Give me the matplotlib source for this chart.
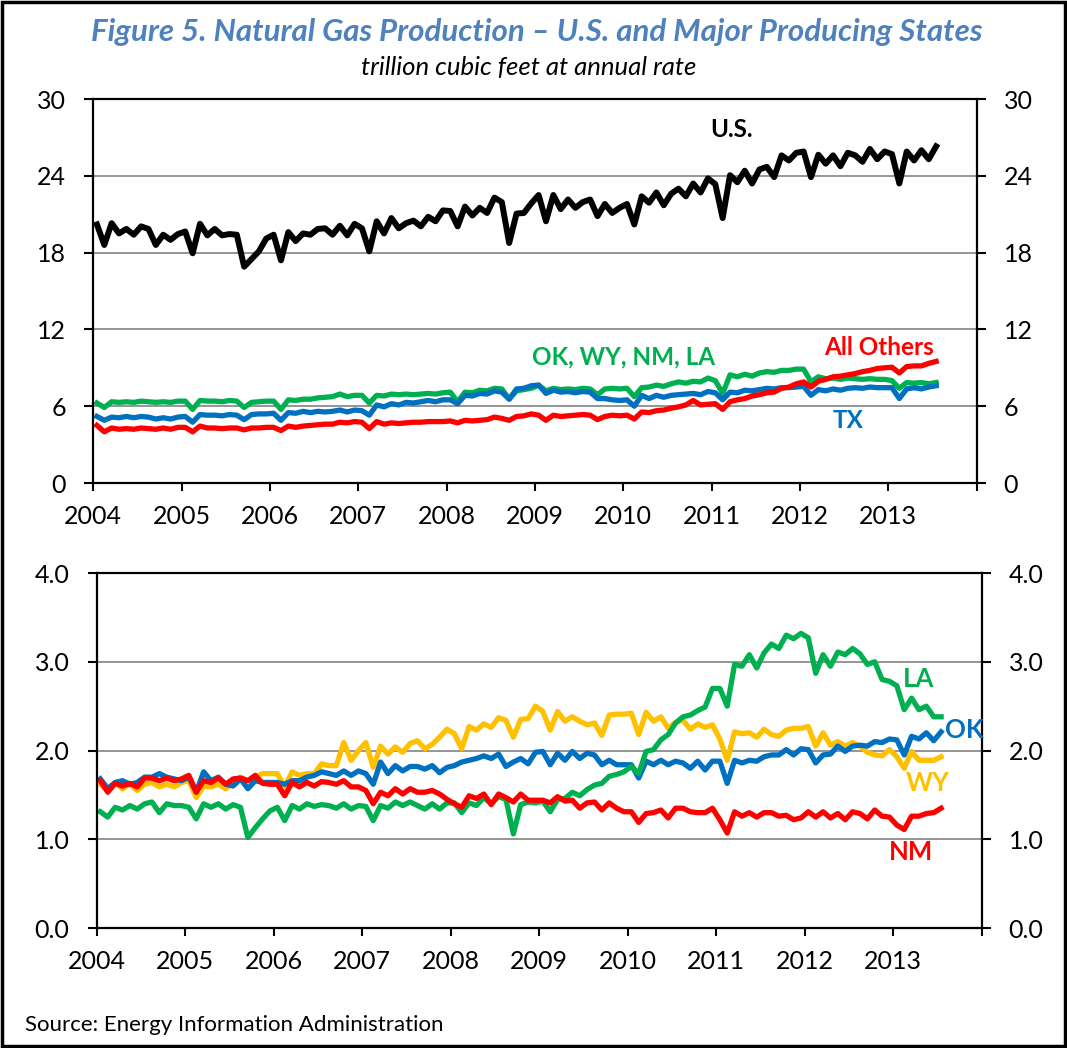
import numpy as np
import matplotlib
matplotlib.use("Agg")
import matplotlib.pyplot as plt
from matplotlib.patches import Rectangle

# ---------------- data (trillion cubic feet, annual rate), monthly Jan-2004 .. Jul-2013
us = [20.2, 18.6, 20.3, 19.5, 19.85, 19.4, 20.05, 19.85, 18.6, 19.4, 19.0, 19.45,
      19.65, 17.95, 20.25, 19.35, 19.85, 19.35, 19.45, 19.4, 16.9, 17.5, 18.1, 19.1,
      19.4, 17.4, 19.6, 18.9, 19.5, 19.4, 19.85, 19.9, 19.4, 20.1, 19.35, 20.25,
      19.9, 18.1, 20.45, 19.5, 20.7, 19.9, 20.3, 20.5, 20.05, 20.8, 20.45, 21.3,
      21.25, 20.05, 21.6, 20.9, 21.5, 21.1, 22.3, 21.95, 18.75, 21.05, 21.1, 21.85,
      22.5, 20.45, 22.5, 21.4, 22.15, 21.5, 21.95, 22.15, 20.85, 21.8, 21.1, 21.5,
      21.8, 20.2, 22.4, 21.9, 22.7, 21.7, 22.6, 23.0, 22.4, 23.4, 22.7, 23.8,
      23.35, 20.7, 24.05, 23.5, 24.4, 23.4, 24.5, 24.7, 23.9, 25.6, 25.2, 25.8,
      25.9, 23.9, 25.65, 24.95, 25.6, 24.75, 25.8, 25.6, 25.1, 26.1, 25.3, 25.9,
      25.7, 23.4, 25.9, 25.2, 26.0, 25.3, 26.3]

tx = [5.2, 4.9, 5.15, 5.1, 5.2, 5.1, 5.2, 5.15, 5.0, 5.1, 5.0, 5.15,
      5.2, 4.75, 5.35, 5.3, 5.3, 5.25, 5.35, 5.3, 4.95, 5.35, 5.4, 5.4,
      5.45, 4.9, 5.5, 5.45, 5.6, 5.5, 5.6, 5.55, 5.6, 5.7, 5.55, 5.7,
      5.65, 5.3, 6.1, 5.95, 6.2, 6.1, 6.3, 6.25, 6.35, 6.45, 6.35, 6.5,
      6.5, 6.2, 6.85, 6.8, 7.0, 6.95, 7.2, 7.1, 6.55, 7.35, 7.4, 7.6,
      7.65, 7.0, 7.25, 7.1, 7.15, 7.05, 7.15, 7.1, 6.6, 6.6, 6.5, 6.45,
      6.5, 6.0, 6.85, 6.6, 6.85, 6.7, 6.85, 6.9, 6.95, 7.0, 6.9, 7.15,
      7.05, 6.5, 7.1, 7.05, 7.25, 7.2, 7.3, 7.4, 7.35, 7.45, 7.45, 7.5,
      7.55, 6.85, 7.3, 7.2, 7.35, 7.25, 7.4, 7.45, 7.4, 7.5, 7.45, 7.45,
      7.45, 6.6, 7.35, 7.45, 7.35, 7.5, 7.6]

ok_wy_nm_la = [6.25, 5.9, 6.35, 6.3, 6.35, 6.3, 6.4, 6.35, 6.3, 6.35, 6.3, 6.4,
               6.4, 5.75, 6.45, 6.4, 6.4, 6.35, 6.45, 6.4, 5.9, 6.3, 6.35, 6.4,
               6.4, 5.75, 6.5, 6.45, 6.55, 6.55, 6.65, 6.7, 6.75, 6.95, 6.75, 6.85,
               6.85, 6.25, 6.85, 6.8, 6.95, 6.9, 6.95, 6.9, 6.95, 7.0, 6.95, 7.05,
               7.1, 6.35, 7.1, 7.05, 7.25, 7.2, 7.4, 7.35, 6.55, 7.2, 7.3, 7.4,
               7.65, 7.2, 7.4, 7.3, 7.35, 7.3, 7.4, 7.35, 6.9, 7.35, 7.4, 7.35,
               7.4, 6.75, 7.45, 7.5, 7.65, 7.55, 7.75, 7.9, 7.8, 7.95, 7.9, 8.2,
               8.0, 7.0, 8.45, 8.3, 8.5, 8.35, 8.6, 8.7, 8.65, 8.8, 8.8, 8.9,
               8.9, 7.9, 8.3, 8.15, 8.2, 8.1, 8.2, 8.15, 8.1, 8.15, 8.1, 8.1,
               8.0, 7.4, 7.85, 7.8, 7.85, 7.75, 7.85]

all_others = [4.5, 4.0, 4.3, 4.2, 4.25, 4.2, 4.3, 4.25, 4.2, 4.3, 4.2, 4.35,
              4.35, 4.0, 4.45, 4.3, 4.3, 4.25, 4.3, 4.3, 4.15, 4.3, 4.3, 4.35,
              4.35, 4.1, 4.45, 4.35, 4.45, 4.5, 4.55, 4.6, 4.6, 4.75, 4.7, 4.8,
              4.75, 4.25, 4.8, 4.6, 4.7, 4.65, 4.7, 4.75, 4.75, 4.8, 4.8, 4.8,
              4.85, 4.7, 4.9, 4.85, 4.9, 4.95, 5.15, 5.05, 4.9, 5.2, 5.25, 5.4,
              5.3, 4.9, 5.3, 5.2, 5.25, 5.3, 5.35, 5.3, 4.95, 5.2, 5.3, 5.25,
              5.3, 5.0, 5.55, 5.5, 5.65, 5.7, 5.85, 5.95, 6.1, 6.45, 6.1, 6.15,
              6.2, 5.75, 6.35, 6.5, 6.6, 6.8, 6.9, 7.05, 7.1, 7.4, 7.5, 7.75,
              7.9, 7.5, 7.95, 8.1, 8.3, 8.35, 8.45, 8.55, 8.7, 8.8, 8.95, 9.0,
              9.05, 8.6, 9.1, 9.15, 9.15, 9.35, 9.5]

la = [1.31, 1.25, 1.36, 1.33, 1.38, 1.34, 1.40, 1.42, 1.30, 1.40, 1.38, 1.38,
      1.36, 1.23, 1.40, 1.36, 1.40, 1.34, 1.39, 1.36, 1.02, 1.13, 1.23, 1.32,
      1.36, 1.21, 1.38, 1.34, 1.40, 1.37, 1.39, 1.38, 1.35, 1.40, 1.34, 1.38,
      1.37, 1.21, 1.38, 1.35, 1.42, 1.38, 1.42, 1.38, 1.34, 1.40, 1.34, 1.41,
      1.41, 1.30, 1.41, 1.38, 1.47, 1.40, 1.48, 1.45, 1.06, 1.39, 1.42, 1.41,
      1.43, 1.31, 1.45, 1.46, 1.53, 1.49, 1.56, 1.61, 1.63, 1.71, 1.73, 1.76,
      1.82, 1.74, 1.99, 2.01, 2.12, 2.18, 2.31, 2.38, 2.40, 2.45, 2.49, 2.70,
      2.70, 2.50, 2.97, 2.95, 3.08, 2.93, 3.10, 3.20, 3.15, 3.30, 3.26, 3.32,
      3.27, 2.87, 3.08, 2.95, 3.11, 3.08, 3.15, 3.09, 2.97, 3.00, 2.80, 2.78,
      2.73, 2.46, 2.59, 2.46, 2.50, 2.38, 2.38]

ok = [1.68, 1.57, 1.64, 1.66, 1.62, 1.64, 1.70, 1.70, 1.74, 1.70, 1.68, 1.66,
      1.70, 1.53, 1.76, 1.66, 1.70, 1.62, 1.60, 1.68, 1.57, 1.66, 1.64, 1.64,
      1.64, 1.62, 1.66, 1.66, 1.70, 1.72, 1.76, 1.74, 1.72, 1.77, 1.72, 1.77,
      1.74, 1.62, 1.87, 1.74, 1.83, 1.77, 1.82, 1.82, 1.79, 1.83, 1.75, 1.81,
      1.83, 1.87, 1.89, 1.91, 1.94, 1.91, 1.96, 1.82, 1.87, 1.91, 1.85, 1.98,
      1.99, 1.84, 1.97, 1.89, 1.99, 1.91, 1.97, 1.95, 1.84, 1.89, 1.84, 1.84,
      1.84, 1.69, 1.88, 1.84, 1.89, 1.84, 1.88, 1.86, 1.80, 1.88, 1.78, 1.88,
      1.88, 1.63, 1.89, 1.86, 1.89, 1.88, 1.93, 1.95, 1.95, 2.01, 1.95, 2.02,
      2.01, 1.86, 1.95, 1.96, 2.05, 1.99, 2.05, 2.06, 2.05, 2.10, 2.09, 2.13,
      2.12, 1.95, 2.16, 2.13, 2.20, 2.11, 2.21]

wy = [1.62, 1.55, 1.64, 1.57, 1.62, 1.55, 1.62, 1.64, 1.59, 1.62, 1.59, 1.64,
      1.66, 1.47, 1.60, 1.59, 1.62, 1.57, 1.64, 1.70, 1.66, 1.70, 1.74, 1.74,
      1.74, 1.59, 1.76, 1.72, 1.74, 1.74, 1.85, 1.83, 1.83, 2.09, 1.89, 2.00,
      2.09, 1.81, 2.05, 1.96, 2.04, 1.98, 2.08, 2.11, 2.02, 2.07, 2.15, 2.24,
      2.19, 2.02, 2.27, 2.23, 2.30, 2.26, 2.37, 2.34, 2.15, 2.35, 2.36, 2.50,
      2.44, 2.23, 2.44, 2.33, 2.38, 2.33, 2.29, 2.31, 2.17, 2.40, 2.41, 2.41,
      2.42, 2.18, 2.43, 2.33, 2.38, 2.25, 2.32, 2.34, 2.24, 2.30, 2.26, 2.29,
      2.13, 1.89, 2.21, 2.19, 2.20, 2.15, 2.24, 2.18, 2.16, 2.23, 2.25, 2.25,
      2.27, 2.05, 2.20, 2.06, 2.10, 2.05, 2.09, 2.05, 1.98, 1.95, 1.94, 2.01,
      1.93, 1.80, 1.99, 1.89, 1.89, 1.89, 1.93]

nm = [1.66, 1.53, 1.63, 1.60, 1.63, 1.59, 1.69, 1.69, 1.66, 1.69, 1.66, 1.68,
      1.72, 1.53, 1.66, 1.64, 1.69, 1.62, 1.68, 1.69, 1.66, 1.72, 1.63, 1.62,
      1.62, 1.49, 1.64, 1.59, 1.64, 1.60, 1.65, 1.64, 1.62, 1.66, 1.59, 1.59,
      1.55, 1.40, 1.53, 1.49, 1.57, 1.51, 1.57, 1.53, 1.53, 1.55, 1.51, 1.45,
      1.40, 1.36, 1.49, 1.46, 1.51, 1.39, 1.51, 1.47, 1.42, 1.51, 1.44, 1.44,
      1.44, 1.41, 1.48, 1.43, 1.44, 1.35, 1.41, 1.42, 1.33, 1.41, 1.35, 1.31,
      1.31, 1.19, 1.29, 1.30, 1.33, 1.24, 1.35, 1.35, 1.31, 1.30, 1.30, 1.35,
      1.22, 1.07, 1.31, 1.26, 1.30, 1.25, 1.30, 1.30, 1.26, 1.27, 1.22, 1.24,
      1.31, 1.25, 1.31, 1.24, 1.29, 1.22, 1.31, 1.29, 1.23, 1.33, 1.26, 1.25,
      1.16, 1.11, 1.26, 1.26, 1.29, 1.30, 1.35]

year_labels = ["2004", "2005", "2006", "2007", "2008", "2009", "2010", "2011", "2012", "2013"]
top_yticks = [0, 6, 12, 18, 24, 30]
bot_yticks = [0.0, 1.0, 2.0, 3.0, 4.0]

# ---------------- styling
plt.rcParams['font.family'] = ['Lato', 'DejaVu Sans']

C_BLACK = "#000000"
C_BLUE = "#0070C0"
C_GREEN = "#00B050"
C_RED = "#FF0000"
C_YELLOW = "#FFC000"
C_TITLE = "#4F81BD"

fig = plt.figure(figsize=(10.67, 10.48), dpi=100)
ax1 = fig.add_axes([0.0874, 0.5391, 0.8279, 0.3664])
ax2 = fig.add_axes([0.0906, 0.1145, 0.8294, 0.3387])

n = len(us)
x = 2004 + (np.arange(n) + 0.5) / 12.0


def style(ax, yticks, fmt):
    ax.set_xlim(2004, 2014)
    ax.set_ylim(yticks[0], yticks[-1])
    ax.set_xticks(range(2004, 2015))
    ax.set_xticklabels(year_labels + [""])
    ax.set_yticks(yticks)
    ax.set_yticklabels([fmt.format(v) for v in yticks])
    ax.tick_params(axis='y', left=True, right=True, labelleft=True, labelright=True,
                   direction='out', length=6.5, width=1.5, pad=13, labelsize=18)
    ax.tick_params(axis='x', direction='out', length=6, width=1.5, pad=10, labelsize=18)
    for s in ax.spines.values():
        s.set_linewidth(1.6)
        s.set_color('black')
    ax.grid(axis='y', color='#8C8C8C', lw=1.3)
    ax.grid(axis='x', visible=False)
    ax.set_axisbelow(True)


style(ax1, top_yticks, "{:.0f}")
style(ax2, bot_yticks, "{:.1f}")

# top panel
ax1.plot(x, ok_wy_nm_la, color=C_GREEN, lw=3.8, solid_joinstyle='round')
ax1.plot(x, tx, color=C_BLUE, lw=3.8, solid_joinstyle='round')
ax1.plot(x, all_others, color=C_RED, lw=3.8, solid_joinstyle='round')
ax1.plot(x, us, color=C_BLACK, lw=4.3, solid_joinstyle='round')

lab = dict(fontsize=17.5, fontweight='bold', ha='center', va='center')
ax1.text(2011.22, 27.6, "U.S.", color=C_BLACK, **lab)
ax1.text(2010.0, 9.84, "OK, WY, NM, LA", color=C_GREEN, **lab)
ax1.text(2012.89, 10.55, "All Others", color=C_RED, **lab)
ax1.text(2012.55, 4.92, "TX", color=C_BLUE, **lab)

# bottom panel
ax2.plot(x, wy, color=C_YELLOW, lw=3.8, solid_joinstyle='round')
ax2.plot(x, ok, color=C_BLUE, lw=3.8, solid_joinstyle='round')
ax2.plot(x, la, color=C_GREEN, lw=3.8, solid_joinstyle='round')
ax2.plot(x, nm, color=C_RED, lw=3.8, solid_joinstyle='round')

lab2 = dict(fontsize=18.5, fontweight='bold', ha='center', va='center')
ax2.text(2013.29, 2.81, "LA", color=C_GREEN, **lab2)
ax2.text(2013.80, 2.23, "OK", color=C_BLUE, **lab2)
ax2.text(2013.39, 1.63, "WY", color=C_YELLOW, **lab2)
ax2.text(2013.20, 0.86, "NM", color=C_RED, **lab2)

# titles and source
fig.text(537 / 1067, 1 - 32 / 1048, "Figure 5. Natural Gas Production \u2013 U.S. and Major Producing States",
         color=C_TITLE, fontsize=22.5, fontweight='bold', fontstyle='italic', ha='center', va='center')
fig.text(529 / 1067, 1 - 68 / 1048, "trillion cubic feet at annual rate",
         color='black', fontsize=18.5, fontstyle='italic', ha='center', va='center')
fig.text(25 / 1067, 1 - 1025 / 1048, "Source: Energy Information Administration",
         color='black', fontsize=16, ha='left', va='center')

# outer border
fig.patches.append(Rectangle((0.002, 0.002), 0.996, 0.996, transform=fig.transFigure,
                             fill=False, edgecolor='black', lw=2.5))

fig.savefig("out.png", dpi=100)
